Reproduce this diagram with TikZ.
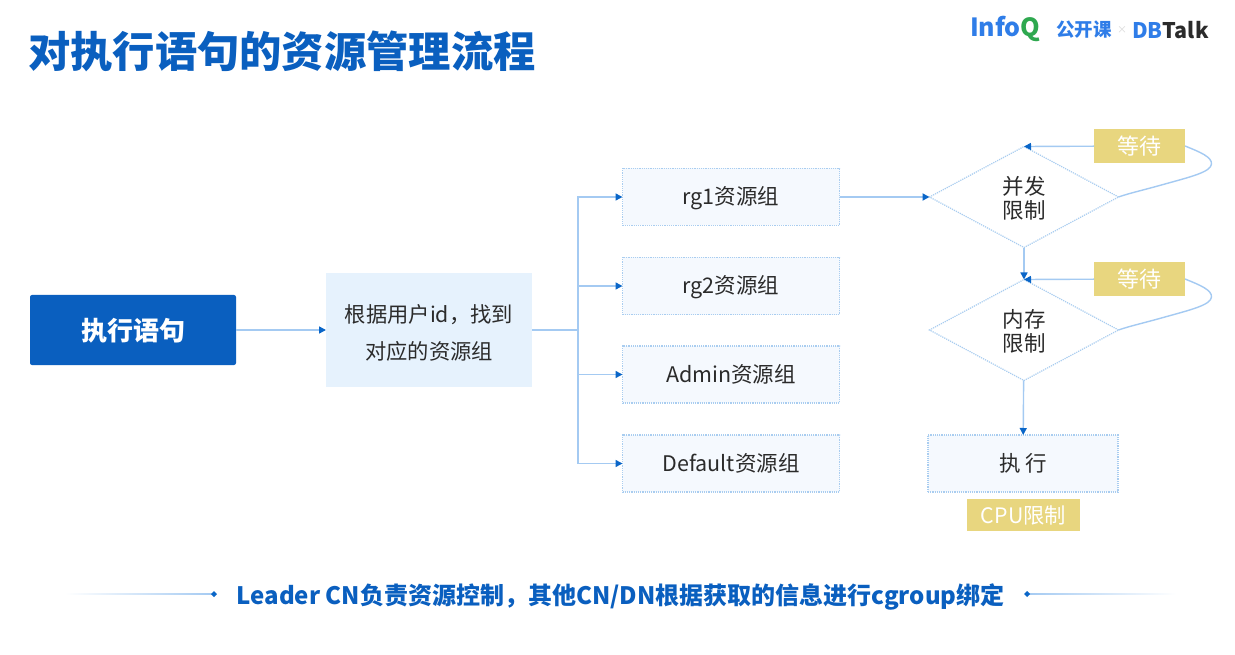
\documentclass[tikz,border=0pt]{standalone}
\usepackage{fontspec}
\setmainfont{Noto Sans CJK SC}
\usetikzlibrary{arrows.meta,shapes.geometric}
\definecolor{deepblue}{HTML}{0A5FBF}
\definecolor{tipblue}{HTML}{0A66C8}
\definecolor{logoblue}{HTML}{2F7DE8}
\definecolor{linkblue}{HTML}{A4CAF2}
\definecolor{dashblue}{HTML}{A9CDF0}
\definecolor{palebox}{HTML}{F5F9FE}
\definecolor{paleblue}{HTML}{E6F2FD}
\definecolor{sand}{HTML}{E8D67F}
\definecolor{inkgrey}{HTML}{2B2B2B}
\newcommand\topfill[1]{\rule{0pt}{#1}}
\newcommand\linefill{\rule[-6pt]{0pt}{28pt}}
\tikzset{
  x=1pt,y=-1pt,
  every node/.style={inner sep=0pt,outer sep=0pt,align=center,text=inkgrey},
  bodytext/.style={font=\fontsize{21.5}{24}\selectfont},
  rgbox/.style={bodytext,draw=dashblue,densely dotted,line width=1.2pt,fill=palebox,minimum width=217pt,minimum height=57pt},
  gate/.style={bodytext,diamond,draw=dashblue,densely dotted,line width=1.2pt,minimum width=189pt,minimum height=101pt,aspect=1.88},
  waitbox/.style={font=\fontsize{22}{24}\selectfont,fill=sand,text=white,minimum width=91pt,minimum height=34pt},
  link/.style={draw=linkblue,line width=1.4pt,-{Triangle[length=7pt,width=7pt,color=tipblue]}},
  heavyarrow/.style={draw=linkblue,line width=2pt,-{Triangle[length=7pt,width=7pt,color=tipblue]}},
  plainlink/.style={draw=linkblue,line width=1.4pt},
  heavylink/.style={draw=linkblue,line width=2pt},
}
\begin{document}
\begin{tikzpicture}
\useasboundingbox (0,0) rectangle (1235,655);
\fill[white] (0,0) rectangle (1235,655);
% title and logos
\node[anchor=center,text=deepblue,font=\fontsize{42.3}{46}\selectfont\bfseries] (title) at (282,51) {对执行语句的资源管理流程};
\node[anchor=west,font=\fontsize{25}{26}\selectfont\bfseries] (logoa) at (970,29) {\textcolor{logoblue}{Info}\textcolor[HTML]{2EA84F}{Q}};
\node[anchor=west,font=\fontsize{18.5}{20}\selectfont\bfseries,text=logoblue] (logob) at (1056,30) {公开课};
\node[anchor=center,font=\fontsize{10}{12}\selectfont,text=black!15] (logox) at (1122,30) {×};
\node[anchor=west,font=\fontsize{21.5}{22}\selectfont\bfseries] (logoc) at (1132,30) {\textcolor{logoblue}{DB}\textcolor{inkgrey}{Talk}};
% main boxes
\node[fill=deepblue,text=white,font=\fontsize{26}{28}\selectfont\bfseries,minimum width=206pt,minimum height=70pt,rounded corners=2pt] (stmt) at (133,330) {\topfill{24pt}执行语句};
\node[fill=paleblue,font=\fontsize{21.3}{37}\selectfont,minimum width=206pt,minimum height=114pt] (lookup) at (429,330) {\topfill{24pt}根据用户id，找到\\对应的资源组};
\node[rgbox] (rga) at (731,197) {\linefill rg1资源组};
\node[rgbox] (rgb) at (731,286) {\linefill rg2资源组};
\node[rgbox] (rgc) at (731,374.5) {\linefill Admin资源组};
\node[rgbox] (rgd) at (731,463.5) {\linefill Default资源组};
\node[gate] (conc) at (1024,197) {\topfill{20pt}并发\\限制};
\node[gate] (mem) at (1024,330) {\topfill{20pt}内存\\限制};
\node[rgbox,minimum width=190pt] (run) at (1023,463.5) {\linefill 执 行};
\node[waitbox] (waita) at (1139.5,146) {等待};
\node[waitbox] (waitb) at (1139.5,279) {等待};
\node[fill=sand,text=white,font=\fontsize{21.3}{24}\selectfont,minimum width=113pt,minimum height=32pt] (cpu) at (1023.5,515) {CPU限制};
% connectors
\coordinate (fork) at (578,330);
\draw[link] (stmt) -- (lookup);
\draw[heavylink] (lookup) -- (fork);
\draw[link] (fork) |- (rga);
\draw[link] (fork) |- (rgb);
\draw[link] (fork) |- (rgc);
\draw[link] (fork) |- (rgd);
\draw[heavyarrow] (rga) -- (conc);
\draw[link] (conc) -- (mem);
\draw[link] (mem) -- (run);
\draw[link] (waita) -- (conc.north);
\draw[link] (waitb) -- (mem.north);
\draw[plainlink] (waita.east) .. controls (1200,152) and (1212,157) .. (1211.5,164) .. controls (1211,172) and (1190,177) .. (1165,184) .. controls (1140,191) and (1130,193) .. (conc.east);
\draw[plainlink] (waitb.east) .. controls (1200,285) and (1212,290) .. (1211.5,297) .. controls (1211,305) and (1190,310) .. (1165,317) .. controls (1140,324) and (1130,326) .. (mem.east);
% footer
\node[text=deepblue,font=\fontsize{24}{26}\selectfont\bfseries] (foot) at (620.5,594) {\topfill{26pt}Leader CN负责资源控制，其他CN/DN根据获取的信息进行cgroup绑定};
\fill[left color=white,right color=linkblue,draw=none] (65,593.2) rectangle (214,594.8);
\fill[left color=linkblue,right color=white,draw=none] (1027,593.2) rectangle (1176,594.8);
\fill[tipblue] (214,591) -- (217,594) -- (214,597) -- (211,594) -- cycle;
\fill[tipblue] (1027,591) -- (1030,594) -- (1027,597) -- (1024,594) -- cycle;
\end{tikzpicture}
\end{document}
